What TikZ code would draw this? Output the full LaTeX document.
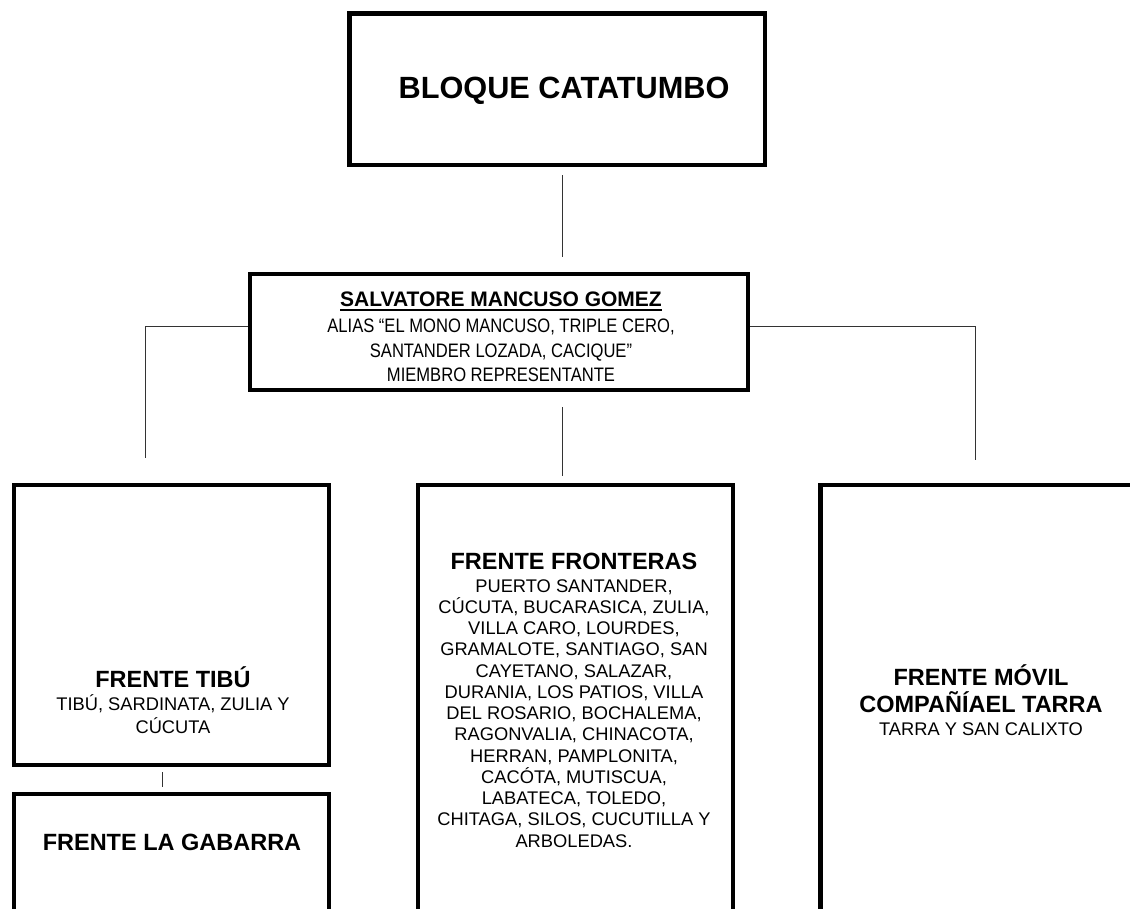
\documentclass[tikz,border=0pt]{standalone}
\usepackage{fontspec}
\setmainfont{Liberation Sans}
\newfontfamily\narrowsans[FakeStretch=0.85]{Liberation Sans}
\usetikzlibrary{positioning, calc}
\newcommand\headfont{\fontsize{23.5}{26}\selectfont\bfseries}
\newcommand\undl[1]{\setbox0\hbox{#1}\rlap{\rule[-4.5pt]{\wd0}{1.8pt}}\box0} % subrayado grueso
\tikzset{
  box/.style={draw=black, line width=4.5pt, inner sep=0pt},
  link/.style={draw=black!80, line width=1pt},
  txt/.style={font=\fontsize{18.3}{21.25}\selectfont, align=center, inner sep=0pt},
}
\begin{document}
\begin{tikzpicture}[x=1pt, y=-1pt]
    \useasboundingbox (0,0) rectangle (1130,909);
    \clip (0,0) rectangle (1130,909);
    % cajas
    \node[box, minimum width=415.5pt, minimum height=151.5pt] (bloque) at (557.25,89.25) {};
    \node[box, minimum width=498pt, minimum height=116pt] (salvatore) at (499,332) {};
    \node[box, minimum width=315pt, minimum height=280pt] (tibu) at (171.5,625) {};
    \node[box, minimum width=315pt, minimum height=206pt] (gabarra) at (171.5,897) {};
    \node[box, minimum width=315pt, minimum height=515pt] (fronteras) at (575.5,742.5) {};
    \node[box, minimum width=319.5pt, minimum height=515pt] (movil) at (980.25,742.5) {};
    % textos
    \node[inner sep=0pt, font=\fontsize{30.7}{36}\selectfont\bfseries] (bloquetxt) at (564,91) {BLOQUE CATATUMBO};
    \node[txt, font=\narrowsans\fontsize{19.5}{24.5}\selectfont] (salvatoretxt) at (501,337)
        {{\rmfamily\fontsize{21}{24}\selectfont\bfseries\undl{SALVATORE MANCUSO GOMEZ}}\\[1.5pt]
         ALIAS “EL MONO MANCUSO, TRIPLE CERO,\\
         SANTANDER LOZADA, CACIQUE”\\
         MIEMBRO REPRESENTANTE};
    \node[txt] (tibutxt) at (173,700)
        {{\headfont FRENTE TIBÚ}\\[1.75pt] TIBÚ, SARDINATA, ZULIA Y\\[1.75pt] CÚCUTA};
    \node[txt] (gabarratxt) at (172,842) {\headfont FRENTE LA GABARRA};
    \node[txt] (fronterastxt) at (574,700)
        {{\headfont FRENTE FRONTERAS}\\[1.75pt]
         PUERTO SANTANDER,\\
         CÚCUTA, BUCARASICA, ZULIA,\\
         VILLA CARO, LOURDES,\\
         GRAMALOTE, SANTIAGO, SAN\\
         CAYETANO, SALAZAR,\\
         DURANIA, LOS PATIOS, VILLA\\
         DEL ROSARIO, BOCHALEMA,\\
         RAGONVALIA, CHINACOTA,\\
         HERRAN, PAMPLONITA,\\
         CACÓTA, MUTISCUA,\\
         LABATECA, TOLEDO,\\
         CHITAGA, SILOS, CUCUTILLA Y\\
         ARBOLEDAS.};
    \node[txt] (moviltxt) at (981,700)
        {{\headfont FRENTE MÓVIL}\\[5.75pt] {\headfont COMPAÑÍAEL TARRA}\\[1.75pt] TARRA Y SAN CALIXTO};
    % conectores
    \coordinate (tibutop) at ([xshift=-26.5pt, yshift=24.75pt]tibu.north);
    \coordinate (moviltop) at ([xshift=-5pt, yshift=22.75pt]movil.north);
    \draw[link, shorten <=8pt, shorten >=15pt] ([xshift=5pt]bloque.south) -- ([xshift=5pt]bloque.south |- salvatore.north);
    \draw[link, shorten <=15pt, shorten >=7pt] ([xshift=-13.5pt]fronteras.north |- salvatore.south) -- ([xshift=-13.5pt]fronteras.north);
    \draw[link] ([yshift=5pt]salvatore.west) -| (tibutop);
    \draw[link] ([yshift=5pt]salvatore.east) -| (moviltop);
    \draw[link, shorten <=5pt, shorten >=5pt] ([xshift=-9.5pt]tibu.south) -- ([xshift=-9.5pt]gabarra.north);
\end{tikzpicture}
\end{document}
